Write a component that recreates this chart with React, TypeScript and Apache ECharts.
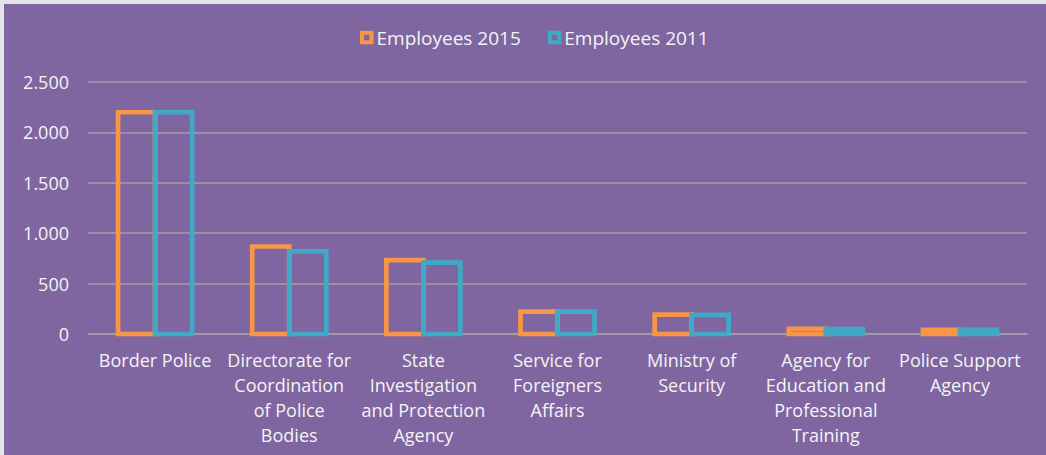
import React, { useEffect, useRef } from "react";
import * as echarts from "echarts";

const categories = [
  "Border Police",
  "Directorate for\nCoordination\nof Police\nBodies",
  "State\nInvestigation\nand Protection\nAgency",
  "Service for\nForeigners\nAffairs",
  "Ministry of\nSecurity",
  "Agency for\nEducation and\nProfessional\nTraining",
  "Police Support\nAgency",
];
const employees2015 = [2200, 868, 732, 222, 193, 50, 40];
const employees2011 = [2200, 821, 709, 222, 190, 48, 40];
const seriesNames = ["Employees 2015", "Employees 2011"];
const yTicks = { min: 0, max: 2500, interval: 500 };

const ORANGE = "#f79646";
const TEAL = "#40aac6";
const PURPLE = "#7f66a1";
const TEXT = "#f4f4f4";
const GRID = "#a39fa8";
const FONT = "'Open Sans', sans-serif";
const BAR_W = 37;
const STROKE = 4.7;

export default function App() {
  const ref = useRef<HTMLDivElement>(null);
  useEffect(() => {
    if (!ref.current) return;
    const chart = echarts.init(ref.current, undefined, { renderer: "svg" });
    const fmt = (v: number) =>
      String(v).replace(/\B(?=(\d{3})+(?!\d))/g, ".");
    const colors = [ORANGE, TEAL];
    const mk = (idx: number, data: number[]) => ({
      name: seriesNames[idx],
      type: "custom",
      data: data.map((v, i) => [i, v]),
      encode: { x: 0, y: 1 },
      itemStyle: { color: colors[idx] },
      renderItem: (params: any, api: any) => {
        const i = api.value(0);
        const v = api.value(1);
        const base = api.coord([i, 0]);
        const top = api.coord([i, v]);
        const x0 = base[0] - BAR_W + idx * BAR_W;
        return {
          type: "rect",
          shape: { x: x0, y: top[1], width: BAR_W, height: base[1] - top[1] },
          style: { fill: "none", stroke: colors[idx], lineWidth: STROKE },
        };
      },
    });
    chart.setOption({
      animation: false,
      backgroundColor: PURPLE,
      textStyle: { fontFamily: FONT },
      legend: {
        data: seriesNames.map((n, i) => ({
          name: n,
          itemStyle: { color: "transparent", borderColor: colors[i], borderWidth: 4 },
        })),
        left: 356,
        top: 24,
        padding: 0,
        itemWidth: 9.5,
        itemHeight: 9.5,
        itemGap: 27,
        icon: "rect",
        textStyle: { color: TEXT, fontSize: 19, fontFamily: FONT },
      },
      grid: { left: 84, right: 19, top: 78, bottom: 121, containLabel: false },
      xAxis: {
        type: "category",
        data: categories,
        axisTick: { show: false },
        axisLine: { show: true, lineStyle: { color: GRID, width: 1.5 } },
        axisLabel: {
          color: TEXT,
          fontSize: 18,
          lineHeight: 25,
          margin: 13,
          interval: 0,
          fontFamily: FONT,
        },
      },
      yAxis: {
        type: "value",
        min: yTicks.min,
        max: yTicks.max,
        interval: yTicks.interval,
        axisLine: { show: false },
        axisTick: { show: false },
        splitLine: { lineStyle: { color: GRID, width: 1.5 } },
        axisLabel: {
          color: TEXT,
          fontSize: 18,
          margin: 19,
          fontFamily: FONT,
          formatter: (v: number) => fmt(v),
        },
      },
      series: [mk(0, employees2015), mk(1, employees2011)],
    });
    return () => chart.dispose();
  }, []);
  return (
    <div
      style={{
        position: "fixed",
        left: 0,
        top: 0,
        width: 1046,
        height: 455,
        background: "#e4e4e4",
      }}
    >
      <div
        ref={ref}
        style={{ position: "absolute", left: 4, top: 4, width: 1042, height: 451 }}
      />
    </div>
  );
}
